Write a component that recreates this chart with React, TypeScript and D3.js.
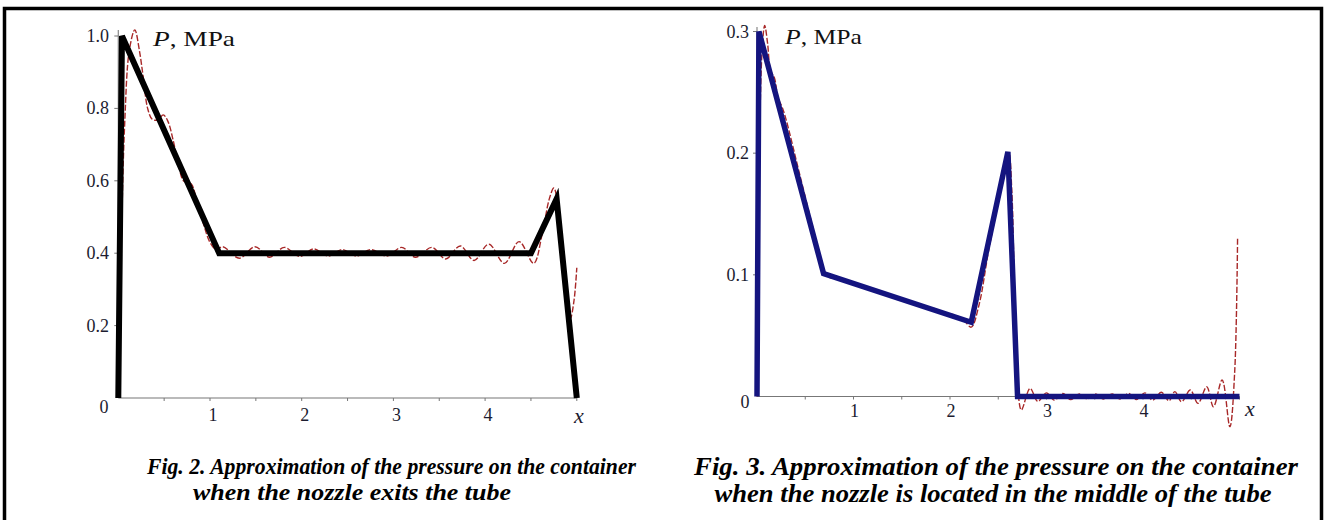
import React from 'react';
import * as d3 from 'd3';

// ---------- data ----------
const xTickValues = [1, 2, 3, 4];
const xTickLabels = ['1', '2', '3', '4'];
const xMinorTicks = [0.5, 1, 1.5, 2, 2.5, 3, 3.5, 4, 4.5, 5];

const leftYTicks = [0.2, 0.4, 0.6, 0.8, 1.0];
const leftYLabels = ['0.2', '0.4', '0.6', '0.8', '1.0'];
const rightYTicks = [0.1, 0.2, 0.3];
const rightYLabels = ['0.1', '0.2', '0.3'];

// Fig. 2 – piecewise-linear approximation (black)
const leftApproxX = [0, 0.04, 1.1, 4.5, 4.78, 5.0];
const leftApproxP = [0, 1.0, 0.4, 0.4, 0.55, 0];

// Fig. 2 – series solution (red dashed)
const leftSeriesX = [0, 0.03, 0.07, 0.12, 0.18, 0.23, 0.27, 0.32, 0.37, 0.43, 0.49, 0.54, 0.6, 0.66, 0.71, 0.76, 0.8, 0.86, 0.93, 1.0, 1.07,
  1.14, 1.32, 1.49, 1.65, 1.81, 1.98, 2.13, 2.29, 2.44, 2.6, 2.75, 2.93, 3.09, 3.24, 3.42, 3.57, 3.73, 3.88, 4.04, 4.21, 4.37, 4.53,
  4.62, 4.7, 4.75, 4.8, 4.86, 4.93, 4.97, 5.0];
const leftSeriesP = [0.02, 0.4, 0.76, 0.96, 1.017, 0.96, 0.89, 0.8, 0.77, 0.768, 0.782, 0.765, 0.71, 0.64, 0.6, 0.595, 0.59, 0.54, 0.48, 0.43, 0.41,
  0.418, 0.386, 0.418, 0.389, 0.416, 0.391, 0.412, 0.392, 0.41, 0.392, 0.41, 0.392, 0.416, 0.389, 0.416, 0.384, 0.42, 0.38, 0.425, 0.372, 0.432, 0.372,
  0.45, 0.55, 0.58, 0.52, 0.36, 0.22, 0.27, 0.36];

// Fig. 3 – piecewise-linear approximation (blue)
const rightApproxX = [0, 0.02, 0.69, 2.22, 2.6, 2.7, 5.0];
const rightApproxP = [0, 0.3, 0.101, 0.061, 0.201, 0, 0];

// Fig. 3 – series solution (red dashed)
const rightSeriesX = [0, 0.02, 0.05, 0.08, 0.11, 0.14, 0.18, 0.22, 0.26, 0.3, 0.45, 0.6, 0.69, 0.75, 0.85, 0.95, 1.05, 1.15, 1.25, 1.35, 1.45,
  1.55, 1.65, 1.75, 1.85, 1.95, 2.05, 2.15, 2.22, 2.3, 2.4, 2.5, 2.57, 2.61, 2.64, 2.67, 2.7, 2.74, 2.83, 2.91, 3.0, 3.08, 3.17, 3.25,
  3.34, 3.42, 3.51, 3.59, 3.68, 3.76, 3.85, 3.93, 4.02, 4.1, 4.19, 4.27, 4.33, 4.4, 4.49, 4.57, 4.66, 4.73, 4.82, 4.9, 4.95, 4.98];
const rightSeriesP = [0, 0.16, 0.28, 0.305, 0.29, 0.268, 0.262, 0.245, 0.238, 0.228, 0.18, 0.132, 0.104, 0.098, 0.097, 0.093, 0.092, 0.088, 0.087, 0.083, 0.082,
  0.078, 0.077, 0.073, 0.072, 0.068, 0.067, 0.062, 0.057, 0.075, 0.12, 0.16, 0.19, 0.2, 0.17, 0.08, 0.01, -0.011, 0.0067, -0.004, 0.003, -0.003, 0.0025, -0.0025,
  0.002, -0.002, 0.002, -0.002, 0.002, -0.002, 0.0025, -0.0025, 0.003, -0.003, 0.0035, -0.0035, 0.004, -0.0043, 0.0053, -0.0056, 0.008, -0.0084, 0.0136, -0.0248, 0.02, 0.13];

const captionLeft = ['Fig. 2. Approximation of the pressure on the container', 'when the nozzle exits the tube'];
const captionRight = ['Fig. 3. Approximation of the pressure on the container', 'when the nozzle is located in the middle of the tube'];

const SERIF = '"Liberation Serif", "Times New Roman", serif';
const LABEL = '#1c1c30';

type PanelProps = {
  x0: number; x1: number; yZero: number; yTop: number; yMax: number;
  yTicks: number[]; yLabels: string[];
  approxX: number[]; approxP: number[]; seriesX: number[]; seriesP: number[];
  approxColor: string; approxWidth: number;
  yLabelRight: number; zeroLabel: { x: number; y: number };
  xLabelBase: number; xLabelShift: number; xVar: { x: number; y: number };
  pLabel: { x: number; y: number; w: number };
  axisTop: number;
};

function Panel(p: PanelProps) {
  const x = d3.scaleLinear().domain([0, 5]).range([p.x0, p.x1]);
  const y = d3.scaleLinear().domain([0, p.yMax]).range([p.yZero, p.yTop]);
  const idxA = d3.range(p.approxX.length);
  const idxS = d3.range(p.seriesX.length);
  const approx = d3.line<number>().x(i => x(p.approxX[i])).y(i => y(p.approxP[i]))(idxA) || '';
  const series = d3.line<number>().x(i => x(p.seriesX[i])).y(i => y(p.seriesP[i]))
    .curve(d3.curveCatmullRom.alpha(0.5))(idxS) || '';
  return (
    <g>
      {/* axes */}
      <line x1={x(0)} x2={x(5)} y1={y(0)} y2={y(0)} stroke="#777" strokeWidth={1.2} />
      <line x1={x(0)} x2={x(0)} y1={y(0)} y2={p.axisTop} stroke="#888" strokeWidth={1.2} />
      {xMinorTicks.map(v => (
        <line key={'mt' + v} x1={x(v)} x2={x(v)} y1={y(0)} y2={y(0) + 3} stroke="#777" strokeWidth={1} />
      ))}
      {p.yTicks.map(v => (
        <line key={'yt' + v} x1={x(0) - 4} x2={x(0)} y1={y(v)} y2={y(v)} stroke="#777" strokeWidth={1} />
      ))}
      {xTickValues.map((v, i) => (
        <text key={'xl' + v} x={x(v) + p.xLabelShift} y={p.xLabelBase} textAnchor="middle"
          fontFamily={SERIF} fontSize={18} fill={LABEL}>{xTickLabels[i]}</text>
      ))}
      {p.yTicks.map((v, i) => (
        <text key={'yl' + v} x={p.yLabelRight} y={y(v) + 6} textAnchor="end"
          fontFamily={SERIF} fontSize={18} fill={LABEL}>{p.yLabels[i]}</text>
      ))}
      <text x={p.zeroLabel.x} y={p.zeroLabel.y} textAnchor="middle" fontFamily={SERIF} fontSize={18} fill={LABEL}>0</text>
      <text x={p.xVar.x} y={p.xVar.y} textAnchor="middle" fontFamily={SERIF} fontStyle="italic" fontSize={22} fill={LABEL}>x</text>
      <text x={p.pLabel.x} y={p.pLabel.y} fontFamily={SERIF} fontSize={22} fill="#111"
        textLength={p.pLabel.w} lengthAdjust="spacingAndGlyphs">
        <tspan fontStyle="italic">P</tspan>, MPa
      </text>
      {/* curves */}
      <path d={series} fill="none" stroke="#a82828" strokeWidth={1.4} strokeDasharray="6,2" />
      <path d={approx} fill="none" stroke={p.approxColor} strokeWidth={p.approxWidth} strokeLinejoin="miter" />
    </g>
  );
}

export default function App() {
  return (
    <svg width={1324} height={520} viewBox="0 0 1324 520"
      style={{ position: 'absolute', left: 0, top: 0, background: '#fff', display: 'block' }}>
      <rect x={0} y={0} width={1324} height={520} fill="#fff" />
      <path d="M4.5,524 V8.5 H1321.5 V524" fill="none" stroke="#000" strokeWidth={3.5} />

      <Panel x0={118.3} x1={576.8} yZero={398} yTop={36} yMax={1.0}
        yTicks={leftYTicks} yLabels={leftYLabels}
        approxX={leftApproxX} approxP={leftApproxP} seriesX={leftSeriesX} seriesP={leftSeriesP}
        approxColor="#000" approxWidth={6} yLabelRight={109} zeroLabel={{ x: 104, y: 413 }}
        xLabelBase={421} xLabelShift={3} xVar={{ x: 579, y: 423 }} pLabel={{ x: 153, y: 46, w: 82 }} axisTop={30} />

      <Panel x0={757} x1={1239.5} yZero={396.5} yTop={31.5} yMax={0.3}
        yTicks={rightYTicks} yLabels={rightYLabels}
        approxX={rightApproxX} approxP={rightApproxP} seriesX={rightSeriesX} seriesP={rightSeriesP}
        approxColor="#14147f" approxWidth={5.5} yLabelRight={749} zeroLabel={{ x: 745, y: 408 }}
        xLabelBase={417} xLabelShift={1} xVar={{ x: 1250, y: 416 }} pLabel={{ x: 785, y: 44, w: 77 }} axisTop={27} />

      <g fontFamily={SERIF} fontWeight="bold" fontStyle="italic" fill="#000">
        <text x={391.5} y={474} textAnchor="middle" fontSize={23.5} textLength={489} lengthAdjust="spacingAndGlyphs">{captionLeft[0]}</text>
        <text x={352} y={500} textAnchor="middle" fontSize={23.5} textLength={318} lengthAdjust="spacingAndGlyphs">{captionLeft[1]}</text>
        <text x={996} y={475} textAnchor="middle" fontSize={25} textLength={604} lengthAdjust="spacingAndGlyphs">{captionRight[0]}</text>
        <text x={993} y={502} textAnchor="middle" fontSize={25} textLength={557} lengthAdjust="spacingAndGlyphs">{captionRight[1]}</text>
      </g>
    </svg>
  );
}
